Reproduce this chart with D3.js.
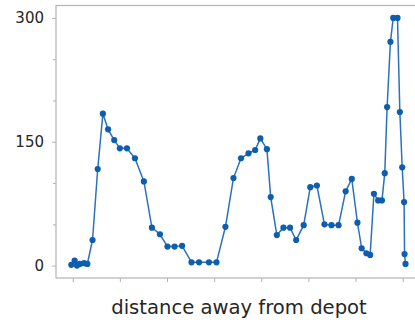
<!DOCTYPE html>
<html>
<head>
<meta charset="utf-8">
<script src="https://cdn.jsdelivr.net/npm/d3@7"></script>
<style>
  html, body { margin: 0; padding: 0; background: #ffffff; }
  svg { display: block; }
</style>
</head>
<body>
<svg id="chart" width="415" height="322"></svg>
<script>
// ---- data ----
const distances = [-0.3, 0.4, 0.9, 1.5, 2.4, 3.1, 4.2, 5.3, 6.4, 7.5, 8.8, 10.0, 11.5, 13.2, 15.1,
  16.8, 18.5, 20.1, 21.6, 23.2, 25.2, 26.8, 28.9, 30.5, 32.4, 34.1, 35.7, 37.3, 38.7, 39.8,
  41.2, 42.0, 43.3, 44.7, 46.1, 47.4, 49.0, 50.4, 51.8, 53.4, 54.9, 56.4, 57.9, 59.2, 60.4,
  61.3, 62.3, 63.1, 63.9, 64.8, 65.6, 66.2, 66.7, 67.4, 68.0, 68.9, 69.4, 69.9, 70.3, 70.4, 70.6];
const values = [1, 6, 0, 2, 3, 2, 31, 117, 184, 165, 152, 142, 142, 130, 102,
  46, 38, 23, 23, 24, 4, 4, 4, 4, 47, 106, 130, 136, 140, 154,
  141, 83, 37, 46, 46, 31, 49, 95, 97, 50, 49, 49, 90, 105, 52,
  21, 15, 13, 87, 79, 79, 112, 192, 271, 300, 300, 186, 119, 77, 14, 2];
const xTickValues = [0, 10, 20, 30, 40, 50, 60, 70];
const yMajorTicks = [0, 150, 300];
const yMinorTicks = [50, 100, 200, 250];
const xLabel = "distance away from depot";

// ---- layout ----
const svg = d3.select("#chart");
const plotLeft = 56, plotRight = 422, plotTop = 5.5, plotBottom = 278;
const spineColor = "#b3b3b3";
const textColor = "#262626";
const lineColor = "#2a72bd";
const dotColor = "#0d5eae";

const x = d3.scaleLinear().domain([-3.55, 74.1]).range([plotLeft, plotRight]);
const y = d3.scaleLinear().domain([-15, 315]).range([plotBottom, plotTop]);

// spines
svg.append("rect")
  .attr("x", plotLeft).attr("y", plotTop)
  .attr("width", plotRight - plotLeft).attr("height", plotBottom - plotTop)
  .attr("fill", "none").attr("stroke", spineColor).attr("stroke-width", 1.2);

// x axis (ticks only)
const xAxis = d3.axisBottom(x).tickValues(xTickValues).tickSize(4).tickFormat("");
const gx = svg.append("g").attr("transform", `translate(0,${plotBottom})`).call(xAxis);
gx.select(".domain").remove();
gx.selectAll(".tick line").attr("stroke", spineColor).attr("stroke-width", 1);

// y axis major
const yAxis = d3.axisLeft(y).tickValues(yMajorTicks).tickSize(4).tickPadding(8).tickFormat(d3.format("d"));
const gy = svg.append("g").attr("transform", `translate(${plotLeft},0)`).call(yAxis);
gy.select(".domain").remove();
gy.selectAll(".tick line").attr("stroke", spineColor).attr("stroke-width", 1);
gy.selectAll(".tick text")
  .attr("fill", textColor)
  .style("font-family", "'DejaVu Sans', sans-serif")
  .style("font-size", "15px");

// y axis minor
const yMinor = d3.axisLeft(y).tickValues(yMinorTicks).tickSize(3).tickFormat("");
const gym = svg.append("g").attr("transform", `translate(${plotLeft},0)`).call(yMinor);
gym.select(".domain").remove();
gym.selectAll(".tick line").attr("stroke", spineColor).attr("stroke-width", 1);

// line
const pts = distances.map((d, i) => [d, values[i]]);
svg.append("path")
  .datum(pts)
  .attr("fill", "none")
  .attr("stroke", lineColor)
  .attr("stroke-width", 1.5)
  .attr("d", d3.line().x(d => x(d[0])).y(d => y(d[1])));

// markers
svg.append("g").selectAll("circle")
  .data(pts).join("circle")
  .attr("cx", d => x(d[0]))
  .attr("cy", d => y(d[1]))
  .attr("r", 3.1)
  .attr("fill", dotColor);

// x label
svg.append("text")
  .attr("x", 239)
  .attr("y", 314)
  .attr("text-anchor", "middle")
  .attr("fill", textColor)
  .style("font-family", "'DejaVu Sans', sans-serif")
  .style("font-size", "19.6px")
  .text(xLabel);
</script>
</body>
</html>
